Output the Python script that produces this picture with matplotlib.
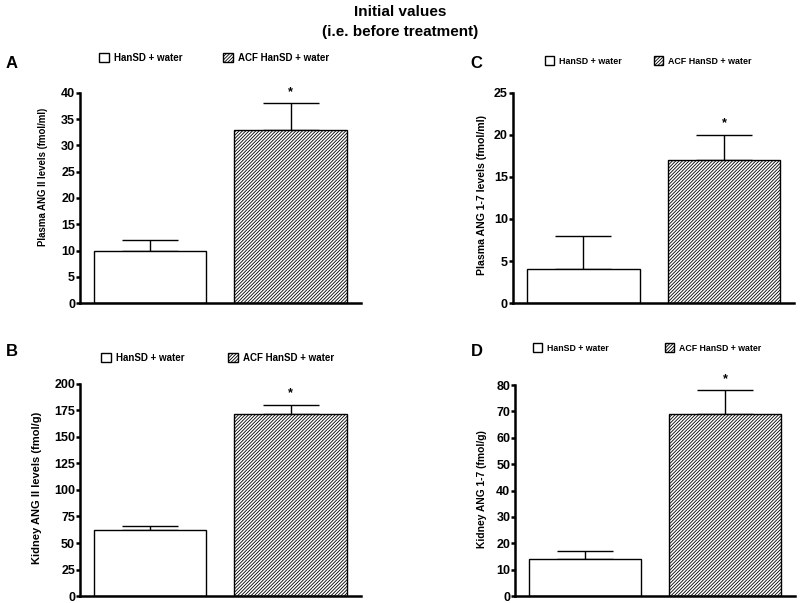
import numpy as np
import matplotlib
matplotlib.use('Agg')
import matplotlib.pyplot as plt
from matplotlib.patches import Patch

plt.rcParams['font.family'] = ['Liberation Sans', 'DejaVu Sans']
plt.rcParams['font.weight'] = 'bold'
plt.rcParams['hatch.linewidth'] = 0.6

# data
groups = ['HanSD + water', 'ACF HanSD + water']
ang2_plasma = [10, 33]
ang2_plasma_err = [2, 5]
ang2_kidney = [62, 172]
ang2_kidney_err = [4, 8]
ang17_plasma = [4, 17]
ang17_plasma_err = [4, 3]
ang17_kidney = [14, 69]
ang17_kidney_err = [3, 9]

HATCH = '/' * 10

panels = [
    # letter, values, errors, ylabel, ymax, ystep, axes rect, letter pos (px), ylabel pos, ylabel fs,
    # legend pos, legend fs, column spacing
    ('A', ang2_plasma, ang2_plasma_err, 'Plasma ANG II levels (fmol/ml)', 40, 5,
     [0.100, 0.4975, 0.351, 0.3483], (6, 64), (-0.114, 0.60), 6.9, (0.2675, 0.9038), 7.0, 4.1),
    ('B', ang2_kidney, ang2_kidney_err, 'Kidney ANG II levels (fmol/g)', 200, 25,
     [0.100, 0.0116, 0.351, 0.3516], (6, 352), (-0.135, 0.509), 8, (0.272, 0.4063), 7.0, 4.4),
    ('C', ang17_plasma, ang17_plasma_err, 'Plasma ANG 1-7 levels (fmol/ml)', 25, 5,
     [0.641, 0.4975, 0.352, 0.3483], (470, 63), (-0.092, 0.514), 7.6, (0.8106, 0.8988), 6.4, 3.6),
    ('D', ang17_kidney, ang17_kidney_err, 'Kidney ANG 1-7 (fmol/g)', 80, 10,
     [0.644, 0.0116, 0.350, 0.3499], (471, 352), (-0.10, 0.507), 7.4, (0.809, 0.4229), 6.3, 6.4),
]

fig = plt.figure(figsize=(8, 6.03), dpi=100)

fig.text(0.5, 1 - 12/603, 'Initial values', ha='center', va='center', fontsize=11, fontweight='bold')
fig.text(0.5, 1 - 32/603, '(i.e. before treatment)', ha='center', va='center', fontsize=11, fontweight='bold')

for letter, vals, errs, ylab, ymax, ystep, rect, lpos, ylpos, ylfs, legpos, legfs, colsp in panels:
    ax = fig.add_axes(rect)
    x = np.arange(len(vals))
    ax.bar(x[0], vals[0], width=0.8, color='white', edgecolor='black', linewidth=1.0, zorder=2)
    ax.bar(x[1], vals[1], width=0.8, color='white', edgecolor='black', linewidth=1.0,
           hatch=HATCH, zorder=2)
    ax.errorbar(x, vals, yerr=[np.zeros(len(errs)), errs], fmt='none', ecolor='black',
                elinewidth=1.0, capsize=20.5, capthick=1.0, zorder=1)
    ax.annotate('*', xy=(x[1], vals[1] + errs[1]), xytext=(0, 4), textcoords='offset points',
                ha='center', va='bottom', fontsize=9, fontweight='bold')
    ax.set_xlim(-0.5, 1.5)
    ax.set_ylim(0, ymax)
    ax.set_yticks(np.arange(0, ymax + ystep/2, ystep))
    ax.set_xticks([])
    for s in ['top', 'right']:
        ax.spines[s].set_visible(False)
    for s in ['left', 'bottom']:
        ax.spines[s].set_linewidth(1.8)
    ax.tick_params(axis='y', direction='out', length=3, width=1.8, labelsize=9, pad=0.5)
    for t in ax.get_yticklabels():
        t.set_fontweight('bold')
    ax.set_ylabel(ylab, fontsize=ylfs, fontweight='bold')
    ax.yaxis.set_label_coords(ylpos[0], ylpos[1])
    fig.text(lpos[0]/800, 1 - lpos[1]/603, letter, fontsize=12, fontweight='bold',
             ha='left', va='center')
    handles = [Patch(facecolor='white', edgecolor='black', linewidth=1.0, label=groups[0]),
               Patch(facecolor='white', edgecolor='black', linewidth=1.0, hatch=HATCH, label=groups[1])]
    ax.legend(handles=handles, loc='center', bbox_to_anchor=legpos, bbox_transform=fig.transFigure,
              ncol=2, frameon=False, fontsize=legfs, handlelength=1.05, handleheight=1.05,
              handletextpad=0.55, columnspacing=colsp, borderpad=0)

fig.savefig('out.png', dpi=100)
